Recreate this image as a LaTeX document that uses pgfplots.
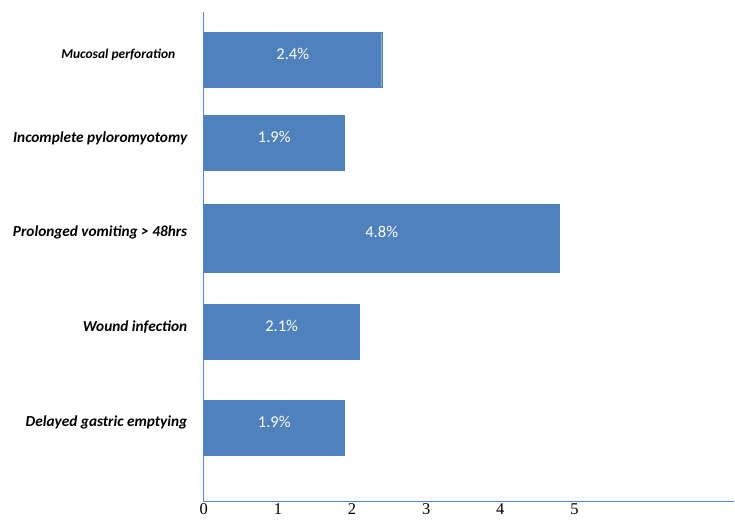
\documentclass[border=0pt]{standalone}
\usepackage{fontspec}
\setmainfont{Carlito}
\newfontfamily\tickfont{Liberation Serif}
\usepackage{pgfplots}
\pgfplotsset{compat=1.18}
\definecolor{barblue}{HTML}{4F81BD}
\definecolor{axisblue}{RGB}{85,135,210}
\begin{document}
\begin{tikzpicture}
\begin{axis}[
  x=74.2pt, y=1pt,
  xmin=0, xmax=7.156, ymin=0, ymax=490,
  clip=false,
  axis lines*=left,
  separate axis lines,
  x axis line style={draw=axisblue, line width=1.4pt},
  y axis line style={draw=axisblue, line width=1.4pt},
  major tick length=0pt,
  xtick={0,1,2,3,4,5},
  /pgf/number format/assume math mode=true,
  xticklabel style={font=\tickfont\fontsize{16.5}{18}\selectfont, inner sep=0pt, yshift=-2pt, anchor=north},
  ytick={74,170,264,359,442},
  yticklabels={Delayed gastric emptying, Wound infection, {Prolonged vomiting > 48hrs}, Incomplete pyloromyotomy, {\fontsize{13.5}{15}\selectfont Mucosal perforation\hspace*{12pt}}},
  yticklabel style={font=\bfseries\itshape\fontsize{15.3}{17}\selectfont, xshift=-13pt, yshift=5pt},
  xbar,
  nodes near coords={\pgfmathprintnumber[fixed,precision=1,fixed zerofill]{\pgfplotspointmeta}\%},
  visualization depends on={rawx \as \rx},
  every node near coord/.append style={anchor=center, text=white, font=\fontsize{16.5}{18}\selectfont, xshift=-\rx*37.1pt, yshift=6pt},
]
\addplot[fill=barblue, draw=barblue, bar width=55, bar shift=0pt]
  coordinates {(1.9,74) (2.1,170) (1.9,359) (2.4,442)};
\addplot[fill=barblue, draw=barblue, bar width=68, bar shift=0pt]
  coordinates {(4.8,264)};
\path (axis cs:-2.749,-20) rectangle (axis cs:7.156,502);
\end{axis}
\end{tikzpicture}
\end{document}
